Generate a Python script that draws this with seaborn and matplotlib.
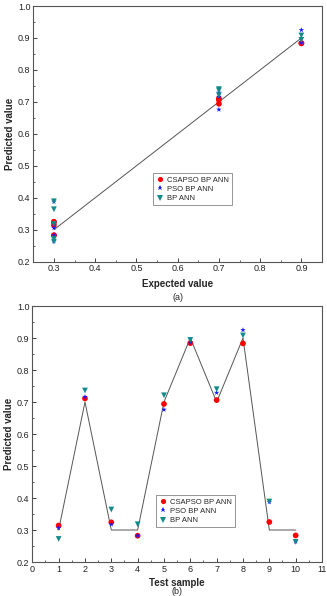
import numpy as np
import pandas as pd
import matplotlib
matplotlib.use("Agg")
import matplotlib.pyplot as plt
import seaborn as sns
from matplotlib.ticker import MultipleLocator

samples = [1, 2, 3, 4, 5, 6, 7, 8, 9, 10]
expected = [0.3, 0.7, 0.3, 0.3, 0.7, 0.9, 0.7, 0.9, 0.3, 0.3]
csapso = [0.314, 0.711, 0.324, 0.282, 0.694, 0.884, 0.706, 0.883, 0.325, 0.283]
pso = [0.306, 0.716, 0.318, 0.283, 0.676, 0.886, 0.729, 0.925, 0.388, 0.264]
bp = [0.272, 0.736, 0.364, 0.318, 0.721, 0.894, 0.740, 0.908, 0.389, 0.263]

series_names = ["CSAPSO BP ANN", "PSO BP ANN", "BP ANN"]
colors = ["#ff0000", "#1a1aff", "#138a8a"]
markers = ["o", "*", "v"]

sns.set_theme(style="white")
plt.rcParams['font.family'] = ['Liberation Sans', 'DejaVu Sans']

rows = []
for name, vals in zip(series_names, [csapso, pso, bp]):
    for s, e, v in zip(samples, expected, vals):
        rows.append({"sample": s, "expected": e, "pred": v, "model": name})
df = pd.DataFrame(rows)

fig = plt.figure(figsize=(3.27, 5.96), dpi=100)
ax1 = fig.add_axes([33.3/327, 1-261.7/596, (322-33.3)/327, (261.7-6)/596])
ax2 = fig.add_axes([32.3/327, 1-562/596, (322-32.3)/327, (562-306)/596])

def style(ax):
    for sp in ax.spines.values():
        sp.set_color("#555555")
        sp.set_linewidth(0.8)
    ax.tick_params(which="both", direction="in", labelsize=6.5, colors="#222222",
                   top=False, right=False, left=True, bottom=True)
    ax.tick_params(which="major", length=3, width=0.6)
    ax.tick_params(which="minor", length=1.5, width=0.5)
    ax.tick_params(axis="both", pad=2)

def add_legend(ax, anchor):
    leg = ax.legend(loc="lower left", bbox_to_anchor=anchor, fontsize=5.5, frameon=True,
                    fancybox=False, borderpad=0.4, handletextpad=0.3, labelspacing=0.25,
                    handlelength=1.2, markerscale=0.9)
    leg.get_frame().set_edgecolor("#666666")
    leg.get_frame().set_linewidth(0.6)

# Top: predicted vs expected
ax1.plot([0.3, 0.9], [0.3, 0.9], color="#555555", lw=0.7, zorder=1)
sns.scatterplot(data=df, x="expected", y="pred", hue="model", style="model",
                hue_order=series_names, style_order=series_names,
                palette=colors, markers=markers, s=17, linewidth=0, ax=ax1, zorder=3)
ax1.set_xlim(0.25, 0.95)
ax1.set_ylim(0.2, 1.0)
ax1.xaxis.set_major_locator(MultipleLocator(0.1))
ax1.xaxis.set_minor_locator(MultipleLocator(0.05))
ax1.yaxis.set_major_locator(MultipleLocator(0.1))
ax1.yaxis.set_minor_locator(MultipleLocator(0.05))
ax1.set_xlabel("Expected value", fontsize=7, fontweight="bold", labelpad=4)
ax1.set_ylabel("Predicted value", fontsize=7, fontweight="bold", labelpad=2)
style(ax1)
add_legend(ax1, (0.40, 0.205))
fig.text((33.3+322)/2/327, 1-297/596, "(a)", fontsize=6.5, ha="center", va="center")

# Bottom: predicted vs test sample
ax2.plot(samples, expected, color="#555555", lw=0.7, zorder=1)
sns.scatterplot(data=df, x="sample", y="pred", hue="model", style="model",
                hue_order=series_names, style_order=series_names,
                palette=colors, markers=markers, s=17, linewidth=0, ax=ax2, zorder=3)
ax2.set_xlim(0, 11)
ax2.set_ylim(0.2, 1.0)
ax2.xaxis.set_major_locator(MultipleLocator(1))
ax2.xaxis.set_minor_locator(MultipleLocator(0.5))
ax2.yaxis.set_major_locator(MultipleLocator(0.1))
ax2.yaxis.set_minor_locator(MultipleLocator(0.05))
ax2.set_xlabel("Test sample", fontsize=7, fontweight="bold", labelpad=3)
ax2.set_ylabel("Predicted value", fontsize=7, fontweight="bold", labelpad=2)
style(ax2)
add_legend(ax2, (0.413, 0.12))
fig.text((32.3+322)/2/327, 1-591/596, "(b)", fontsize=6.5, ha="center", va="center")

fig.savefig("out.png", dpi=100)
